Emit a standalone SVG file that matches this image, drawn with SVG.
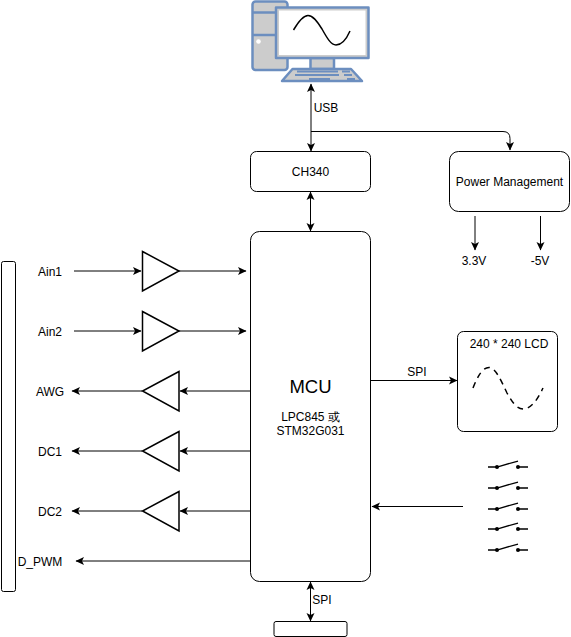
<svg xmlns="http://www.w3.org/2000/svg" width="571" height="637" viewBox="0 0 571 637">
<style>
text{font-family:"Liberation Sans",Arial,sans-serif;font-size:12px;fill:#000;text-anchor:middle}
.b{fill:#fff;stroke:#000;stroke-width:1}
.t{fill:#fff;stroke:#000;stroke-width:1.5}
.c{fill:none;stroke:#000;stroke-width:1}
.g{fill:#ccc;stroke:#6c8ebf;stroke-width:2.5;stroke-linejoin:round}
.sw{fill:none;stroke:#000;stroke-width:1.3}
</style>
<defs>
<marker id="a" viewBox="0 0 9 9" refX="8" refY="4.500" markerWidth="9" markerHeight="9" markerUnits="userSpaceOnUse" orient="auto-start-reverse"><path d="M0,0.500L8.500,4.500L0,8.500L2,4.500Z" fill="#000"/></marker>
</defs>
<g id="connectors">
<path class="c" d="M311 84V151" marker-start="url(#a)" marker-end="url(#a)"/>
<path class="c" d="M311 131.500H503Q510 131.500 510 138.500V150" marker-end="url(#a)"/>
<path class="c" d="M310.500 192V231" marker-start="url(#a)" marker-end="url(#a)"/>
<path class="c" d="M475 216V250" marker-end="url(#a)"/>
<path class="c" d="M540.500 216V250" marker-end="url(#a)"/>
<path class="c" d="M74 271H141" marker-end="url(#a)"/>
<path class="c" d="M179 271H246" marker-end="url(#a)"/>
<path class="c" d="M74 331H141" marker-end="url(#a)"/>
<path class="c" d="M179 331H246" marker-end="url(#a)"/>
<path class="c" d="M250 391H180" marker-end="url(#a)"/>
<path class="c" d="M142 391H72" marker-end="url(#a)"/>
<path class="c" d="M250 451H180" marker-end="url(#a)"/>
<path class="c" d="M142 451H72" marker-end="url(#a)"/>
<path class="c" d="M250 511H180" marker-end="url(#a)"/>
<path class="c" d="M142 511H72" marker-end="url(#a)"/>
<path class="c" d="M250 561H76" marker-end="url(#a)"/>
<path class="c" d="M370 380.500H457" marker-end="url(#a)"/>
<path class="c" d="M463 506.500H372" marker-end="url(#a)"/>
<path class="c" d="M310.500 582V621" marker-start="url(#a)" marker-end="url(#a)"/>
<text x="326" y="112">USB</text>
<text x="417" y="376">SPI</text>
<text x="322" y="604">SPI</text>
</g>
<g id="computer">
<rect class="g" x="252.500" y="1.500" width="35" height="68.500" rx="3"/>
<path d="M252.500 12.500H276M252.500 35H276" stroke="#6c8ebf" stroke-width="2.500" fill="none"/>
<circle cx="258.500" cy="41.500" r="2.300" fill="#fff"/>
<rect class="g" x="310.500" y="58" width="23.500" height="11"/>
<rect class="g" x="276" y="7.500" width="92.500" height="50.500"/>
<rect x="279" y="10.500" width="86.500" height="44.500" fill="#fff"/>
<path d="M293.500 30C300 19 304 15.500 308 15.500C313 15.500 317 21 322 29C327 38 331 45 336 45C341 45 346 40 350 31" fill="none" stroke="#000" stroke-width="1.500"/>
<path class="g" d="M282 81L292.500 69H351L362 81Z"/>
<path d="M297 71.500H338M342 71.500H350M295 75H339M344 75H352M309 79H330M347 79H355" stroke="#6c8ebf" stroke-width="2" fill="none"/>
</g>
<g id="ch340"><rect class="b" x="250.500" y="151.500" width="120" height="40" rx="6"/><text x="310.500" y="176">CH340</text></g>
<g id="power"><rect class="b" x="449.500" y="151.500" width="120" height="60" rx="9"/><text x="509.500" y="186">Power Management</text></g>
<g id="v33"><text x="474" y="265">3.3V</text></g>
<g id="v5"><text x="540" y="265">-5V</text></g>
<g id="mcu"><rect class="b" x="250.500" y="231.500" width="120" height="350" rx="9"/>
<text x="310.500" y="393" style="font-size:18.500px">MCU</text>
<text x="310.500" y="421">LPC845 或</text><text x="310.500" y="435">STM32G031</text></g>
<g id="connector-bar"><rect class="b" x="1.500" y="261.500" width="14" height="330" rx="2"/></g>
<g id="bottom-box"><rect class="b" x="274" y="621.500" width="73" height="15" rx="2"/></g>
<g id="lcd"><rect class="b" x="457.500" y="331.500" width="100" height="100" rx="6"/>
<text x="509" y="348">240 * 240 LCD</text>
<path d="M473 388C478 375 483 367.500 489 367.500C495 367.500 500 378 507 393C512 402 517 409.500 524 409C531 408 537 401 543 388" fill="none" stroke="#000" stroke-width="1.500" stroke-dasharray="6 5"/></g>
<g id="amp1"><path class="t" d="M142.500 251.500L179 271L142.500 291Z"/></g>
<g id="amp2"><path class="t" d="M142.500 311.500L179 331L142.500 351Z"/></g>
<g id="amp3"><path class="t" d="M179 371.500L142.500 391L179 411Z"/></g>
<g id="amp4"><path class="t" d="M179 431.500L142.500 451L179 471Z"/></g>
<g id="amp5"><path class="t" d="M179 491.500L142.500 511L179 531Z"/></g>
<g id="l1"><text x="50" y="276">Ain1</text></g>
<g id="l2"><text x="50" y="336">Ain2</text></g>
<g id="l3"><text x="50" y="396">AWG</text></g>
<g id="l4"><text x="50" y="456">DC1</text></g>
<g id="l5"><text x="50" y="516">DC2</text></g>
<g id="l6"><text x="40" y="566">D_PWM</text></g>
<g id="switches">
<path class="sw" d="M488 467H497L518 461M518 467H528"/>
<circle cx="497" cy="467" r="2"/><circle cx="518" cy="467" r="2"/>
<path class="sw" d="M488 488H497L518 482M518 488H528"/>
<circle cx="497" cy="488" r="2"/><circle cx="518" cy="488" r="2"/>
<path class="sw" d="M488 509H497L518 503M518 509H528"/>
<circle cx="497" cy="509" r="2"/><circle cx="518" cy="509" r="2"/>
<path class="sw" d="M488 529H497L518 523M518 529H528"/>
<circle cx="497" cy="529" r="2"/><circle cx="518" cy="529" r="2"/>
<path class="sw" d="M488 550H497L518 544M518 550H528"/>
<circle cx="497" cy="550" r="2"/><circle cx="518" cy="550" r="2"/>
</g>
</svg>
